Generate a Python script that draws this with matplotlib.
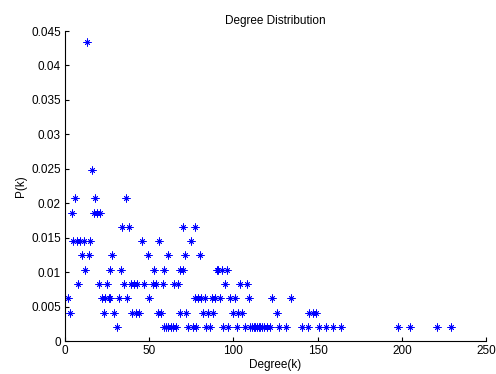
"""Degree distribution scatter, MATLAB-style look."""

import numpy as np
import matplotlib
matplotlib.use("Agg")
from matplotlib import pyplot as plt

# total node count; every P(k) is (node count at that degree) / N_NODES
N_NODES = 483

# degrees grouped by how many nodes share that degree
deg_count_1 = [31, 59, 60, 61, 63, 64, 66, 73, 76, 78, 84, 86, 94, 97, 102, 107,
               110, 111, 112, 113, 114, 115, 116, 117, 118, 120, 122, 127, 131,
               141, 144, 151, 155, 159, 164, 198, 205, 221, 229]
deg_count_2 = [3, 23, 29, 40, 42, 44, 55, 57, 68, 72, 82, 85, 88, 100, 103, 105,
               126, 145, 147, 149]
deg_count_3 = [2, 22, 24, 26, 27, 32, 37, 50, 77, 79, 81, 83, 87, 89, 92, 98,
               101, 109, 123, 134]
deg_count_4 = [8, 20, 25, 35, 39, 41, 43, 47, 52, 54, 58, 65, 67, 95, 104, 108]
deg_count_5 = [12, 27, 33, 53, 59, 68, 70, 90, 91, 93, 96]
deg_count_6 = [10, 14, 28, 49, 61, 71, 80]
deg_count_7 = [5, 7, 9, 11, 15, 46, 56, 75]
deg_count_8 = [34, 38, 70, 77]
deg_count_9 = [4, 17, 19, 21]
deg_count_10 = [6, 18, 36]
deg_count_12 = [16]
deg_count_21 = [13]

groups = {
    1: deg_count_1, 2: deg_count_2, 3: deg_count_3, 4: deg_count_4,
    5: deg_count_5, 6: deg_count_6, 7: deg_count_7, 8: deg_count_8,
    9: deg_count_9, 10: deg_count_10, 12: deg_count_12, 21: deg_count_21,
}

x_ticks = [0, 50, 100, 150, 200, 250]
y_ticks = [0, 0.005, 0.01, 0.015, 0.02, 0.025, 0.03, 0.035, 0.04, 0.045]
y_tick_labels = ["0", "0.005", "0.01", "0.015", "0.02", "0.025", "0.03",
                 "0.035", "0.04", "0.045"]

plt.rcParams["font.family"] = ["Liberation Sans", "DejaVu Sans"]
plt.rcParams["font.size"] = 8.5

degrees = []
probs = []
for cnt, degs in groups.items():
    for d in degs:
        degrees.append(d)
        probs.append(cnt / N_NODES)
degrees = np.array(degrees)
probs = np.array(probs)

fig = plt.figure(figsize=(4.96, 3.74), dpi=100)
ax = fig.add_axes([0.131, 0.088, 0.849, 0.829])

# MATLAB '*' marker = plus + cross drawn together
ax.plot(degrees, probs, linestyle="none", marker=(4, 2, 0), markersize=6,
        markeredgewidth=0.6, color="blue")
ax.plot(degrees, probs, linestyle="none", marker=(4, 2, 45), markersize=4.5,
        markeredgewidth=0.6, color="blue")

ax.set_xlim(0, 250)
ax.set_ylim(0, 0.045)
ax.set_xticks(x_ticks)
ax.set_yticks(y_ticks)
ax.set_yticklabels(y_tick_labels)
ax.tick_params(direction="in", length=3, width=0.8, pad=3, colors="black")
for side in ("top", "right"):
    ax.spines[side].set_visible(False)
for side in ("left", "bottom"):
    ax.spines[side].set_linewidth(0.8)

ax.set_title("Degree Distribution", fontsize=8.5, pad=5)
ax.set_xlabel("Degree(k)", labelpad=1)
ax.set_ylabel("P(k)", labelpad=3)

fig.savefig("out.png", dpi=100)
